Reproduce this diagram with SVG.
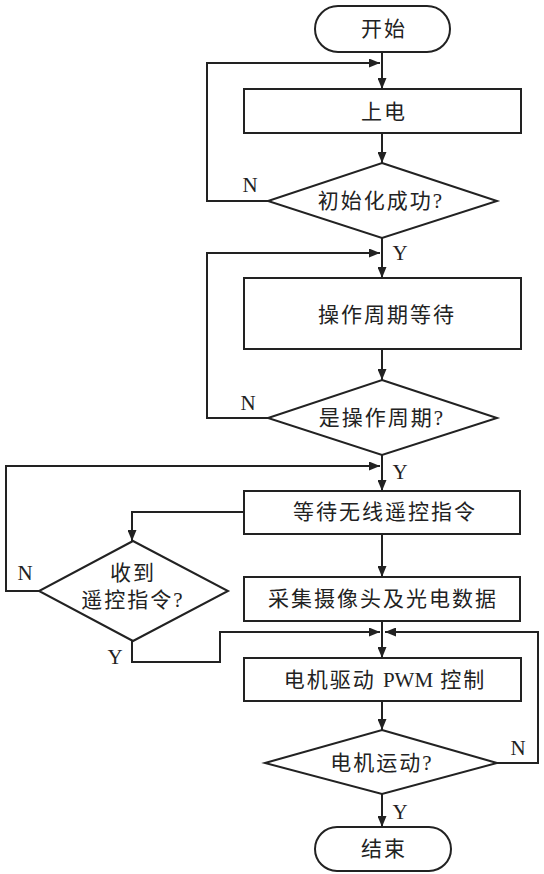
<svg xmlns="http://www.w3.org/2000/svg" width="544" height="874" viewBox="0 0 544 874">
<style>
.s{fill:#fff;stroke:#222;stroke-width:2}
.c{fill:none;stroke:#222;stroke-width:2}
.t{font-family:"Liberation Serif","Noto Sans CJK SC",serif;font-size:21px;fill:#222;text-anchor:middle;dominant-baseline:central;letter-spacing:2px}
.l{font-family:"Liberation Serif",serif;font-size:21px;fill:#222;text-anchor:middle;dominant-baseline:central}
</style>
<defs>
<marker id="a" markerWidth="11" markerHeight="9" refX="11" refY="4.5" orient="auto" markerUnits="userSpaceOnUse">
<path d="M0,0 L11,4.5 L0,9 z" fill="#222"/>
</marker>
</defs>
<g id="connectors">
<path class="c" d="M382,52 V89" marker-end="url(#a)"/>
<path class="c" d="M382,133 V163" marker-end="url(#a)"/>
<path class="c" d="M268,201 H207 V63 H380" marker-end="url(#a)"/>
<path class="c" d="M382,238 V278" marker-end="url(#a)"/>
<path class="c" d="M268,418 H207 V253 H380" marker-end="url(#a)"/>
<path class="c" d="M382,349 V380" marker-end="url(#a)"/>
<path class="c" d="M382,455 V491" marker-end="url(#a)"/>
<path class="c" d="M39,591 H6 V466 H380" marker-end="url(#a)"/>
<path class="c" d="M244,512 H132 V541" marker-end="url(#a)"/>
<path class="c" d="M382,534 V577" marker-end="url(#a)"/>
<path class="c" d="M382,621 V658" marker-end="url(#a)"/>
<path class="c" d="M132,641 V662 H220 V632 H380" marker-end="url(#a)"/>
<path class="c" d="M497,763 H538 V632 H385" marker-end="url(#a)"/>
<path class="c" d="M382,701 V730" marker-end="url(#a)"/>
<path class="c" d="M382,794 V827" marker-end="url(#a)"/>
<text class="l" x="250" y="185">N</text>
<text class="l" x="400" y="253">Y</text>
<text class="l" x="248" y="403">N</text>
<text class="l" x="400" y="472">Y</text>
<text class="l" x="25" y="573">N</text>
<text class="l" x="115" y="657">Y</text>
<text class="l" x="518" y="748">N</text>
<text class="l" x="400" y="812">Y</text>
</g>
<g id="start"><rect class="s" x="315" y="6" width="135" height="46" rx="23"/><text class="t" x="384" y="29">开始</text></g>
<g id="power"><rect class="s" x="244" y="89" width="277" height="44"/><text class="t" x="384" y="112">上电</text></g>
<g id="init"><polygon class="s" points="382,163 497,201 382,238 268,201"/><text class="t" x="381" y="201">初始化成功?</text></g>
<g id="wait"><rect class="s" x="244" y="278" width="277" height="71"/><text class="t" x="387" y="315">操作周期等待</text></g>
<g id="period"><polygon class="s" points="382,380 497,418 382,455 268,418"/><text class="t" x="382" y="418">是操作周期?</text></g>
<g id="waitcmd"><rect class="s" x="244" y="491" width="276" height="43"/><text class="t" x="385" y="512">等待无线遥控指令</text></g>
<g id="recv"><polygon class="s" points="133,541 228,591 133,641 39,591"/><text class="t" x="133" y="573">收到</text><text class="t" x="133" y="600">遥控指令?</text></g>
<g id="collect"><rect class="s" x="244" y="577" width="276" height="44"/><text class="t" x="383" y="599">采集摄像头及光电数据</text></g>
<g id="pwm"><rect class="s" x="244" y="658" width="277" height="43"/><text class="t" x="385" y="680">电机驱动 <tspan style="letter-spacing:0">PWM</tspan> 控制</text></g>
<g id="motor"><polygon class="s" points="382,730 497,763 382,794 265,763"/><text class="t" x="382" y="763">电机运动?</text></g>
<g id="end"><rect class="s" x="315" y="827" width="136" height="44" rx="22"/><text class="t" x="384" y="849">结束</text></g>
</svg>
